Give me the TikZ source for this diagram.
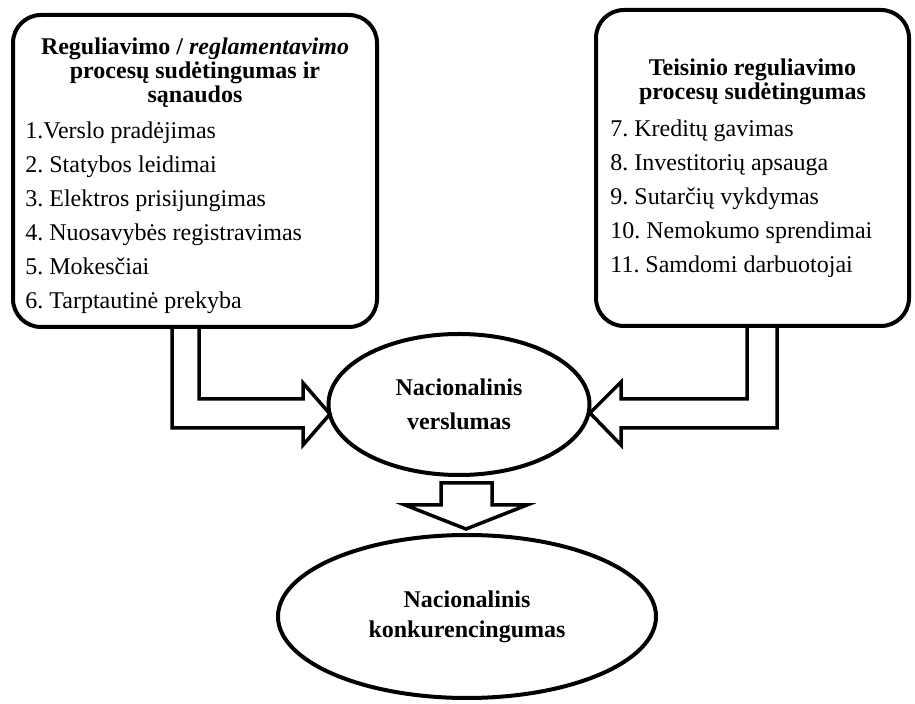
\documentclass[tikz,border=0pt]{standalone}
\usepackage{fontspec}
\setmainfont{Liberation Serif}
\usetikzlibrary{shapes,arrows}
\usetikzlibrary{calc}
\frenchspacing

\begin{document}
\begin{tikzpicture}[x=0.5pt,y=-0.5pt]
\tikzstyle{box}=[rectangle,rounded corners=14pt,draw,line width=2pt,inner sep=0pt]
\tikzstyle{el}=[ellipse,draw,line width=2pt,inner sep=0pt,align=center]
\tikzstyle{blk}=[draw,line width=1.75pt]
\tikzstyle{ttl}=[align=center,inner sep=0pt,anchor=base,font=\bfseries\fontsize{12}{12}\selectfont]
\tikzstyle{lst}=[align=left,inner sep=0pt,anchor=base west,font=\fontsize{12}{17}\selectfont\frenchspacing]
\useasboundingbox (0,0) rectangle (915,704);
\node[box,minimum width=182pt,minimum height=156pt] (reg) at (195,171) {};
\node[box,minimum width=156.5pt,minimum height=158pt] (teis) at (752.5,168) {};
% multi-line nodes sit on their last baseline
\node[ttl] (regt) at (195,103) {Reguliavimo / \textit{reglamentavimo}\\procesų sudėtingumas ir\\sąnaudos};
\node[ttl] (teist) at (752.5,100) {Teisinio reguliavimo\\procesų sudėtingumas};
\node[lst] (regl) at (25,309) {1.Verslo pradėjimas\\2. Statybos leidimai\\3. Elektros prisijungimas\\4. Nuosavybės registravimas\\5. Mokesčiai\\6. Tarptautinė prekyba};
\node[lst] (teisl) at (610,273) {7. Kreditų gavimas\\8. Investitorių apsauga\\9. Sutarčių vykdymas\\10. Nemokumo sprendimai\\11. Samdomi darbuotojai};
\node[el,minimum width=130.5pt,minimum height=70.5pt,font=\bfseries\fontsize{12}{17}\selectfont] (vers) at (459,404.5) {Nacionalinis\\verslumas};
\node[el,minimum width=189pt,minimum height=81.5pt,font=\bfseries\fontsize{12}{15}\selectfont] (konk) at (467,616.5) {Nacionalinis\\konkurencingumas};
% block arrows
\draw[blk] ([xshift=2pt]reg.south) |- (303,399) -- (303,383) -- (330,414) -- (303,445) -- (303,428) -| ([xshift=-11.5pt]reg.south);
\draw[blk] ([xshift=-2.75pt]teis.south) |- (621,399) -- (621,382) -- (590,413) -- (621,445) -- (621,428) -| ([xshift=12.25pt]teis.south);
\draw[blk] (441,483) -- (492,483) -- (492,505) -- (527,505) -- (466,529) -- (405,505) -- (441,505) -- cycle;
\end{tikzpicture}
\end{document}
